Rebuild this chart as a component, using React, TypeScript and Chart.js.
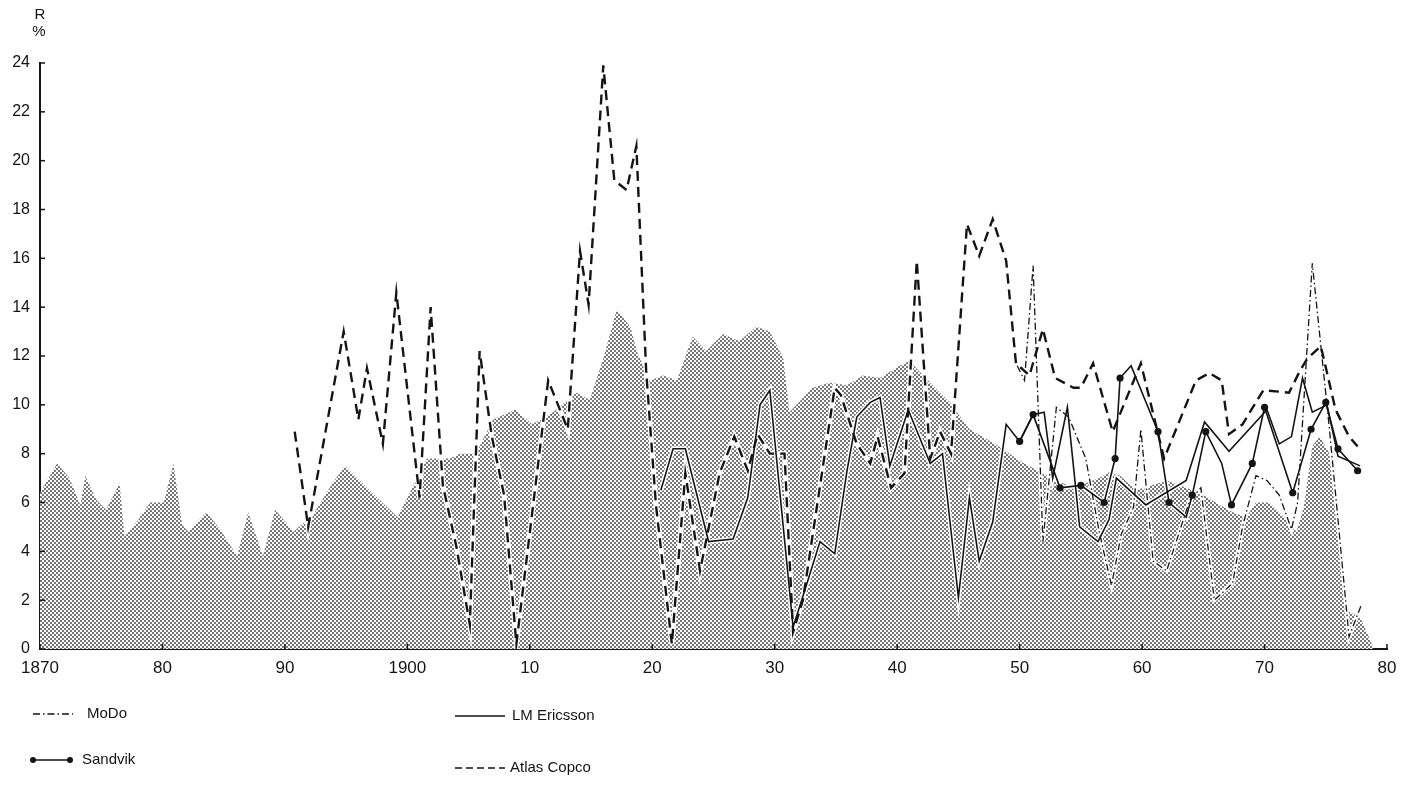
import { useEffect, useRef } from 'react';
import { Chart, registerables } from 'chart.js';

Chart.register(...registerables);

// ---------- data ----------
const xTickYears = [1870, 1880, 1890, 1900, 1910, 1920, 1930, 1940, 1950, 1960, 1970, 1980];
const xTickLabels = ['1870', '80', '90', '1900', '10', '20', '30', '40', '50', '60', '70', '80'];
const yTickValues = [0, 2, 4, 6, 8, 10, 12, 14, 16, 18, 20, 22, 24];

// aggregate (stippled area) [year, R %]
const aggregateSeries: [number, number][] = [
  [1870.0, 6.4], [1871.4, 7.6], [1872.4, 7.0], [1873.3, 5.9], [1873.7, 7.1], [1874.6, 6.1],
  [1875.4, 5.7], [1876.5, 6.8], [1876.9, 4.6], [1877.9, 5.2], [1879.0, 6.0], [1880.1, 6.0],
  [1880.9, 7.6], [1881.6, 5.1], [1882.1, 4.8], [1883.6, 5.6], [1884.7, 4.9], [1886.1, 3.8],
  [1887.0, 5.6], [1888.2, 3.8], [1889.2, 5.7], [1890.7, 4.8], [1892.3, 5.5], [1893.9, 6.8],
  [1894.9, 7.5], [1896.7, 6.6], [1899.2, 5.4], [1901.6, 7.8], [1903.5, 7.8], [1904.3, 8.0],
  [1905.6, 8.0], [1907.0, 9.4], [1908.8, 9.8], [1910.2, 9.2], [1911.9, 9.7], [1913.8, 10.5],
  [1914.9, 10.2], [1916.0, 11.9], [1917.1, 13.9], [1918.2, 13.2], [1918.8, 12.1], [1919.8, 11.0],
  [1920.9, 11.2], [1922.0, 11.0], [1923.3, 12.8], [1924.4, 12.2], [1925.8, 12.9], [1927.1, 12.6],
  [1928.5, 13.2], [1929.6, 13.0], [1930.7, 11.9], [1931.2, 9.7], [1933.1, 10.7], [1934.5, 10.9],
  [1935.9, 10.8], [1937.2, 11.2], [1938.6, 11.1], [1940.2, 11.6], [1941.0, 11.8], [1942.7, 10.9],
  [1944.3, 10.1], [1945.9, 9.0], [1947.3, 8.6], [1948.6, 8.2], [1950.0, 7.7], [1951.5, 7.3],
  [1953.0, 6.9], [1954.5, 6.6], [1956.5, 7.0], [1957.5, 7.3], [1958.2, 7.1], [1959.5, 6.5],
  [1962.0, 6.9], [1964.7, 6.4], [1966.0, 6.0], [1967.4, 5.6], [1968.5, 5.4], [1969.3, 6.0],
  [1970.4, 6.0], [1971.6, 5.4], [1972.6, 4.8], [1973.2, 5.8], [1973.9, 8.3], [1974.5, 8.7],
  [1975.3, 8.0], [1975.9, 5.0], [1976.6, 1.6], [1977.8, 1.3], [1978.6, 0.4], [1978.9, 0.0],
];

const atlasCopcoSeries: [number, number][] = [
  [1890.8, 8.9], [1891.9, 5.0], [1894.8, 13.0], [1896.0, 9.4], [1896.7, 11.5], [1898.0, 8.4],
  [1899.1, 14.6], [1901.0, 6.2], [1901.9, 14.0], [1902.9, 6.7], [1904.0, 4.2], [1905.1, 1.0],
  [1905.9, 12.2], [1906.9, 8.7], [1907.9, 6.3], [1908.9, 0.2], [1911.5, 11.0], [1913.1, 9.0],
  [1914.1, 16.3], [1914.8, 14.1], [1916.0, 23.9], [1916.9, 19.2], [1917.9, 18.8], [1918.7, 20.6],
  [1919.5, 11.4], [1920.3, 5.9], [1921.6, 0.2], [1922.7, 7.2], [1923.9, 3.2], [1925.5, 7.2],
  [1926.7, 8.7], [1927.8, 7.3], [1928.6, 8.8], [1929.6, 8.0], [1930.8, 8.0], [1931.5, 0.7],
  [1932.3, 2.0], [1934.9, 10.7], [1935.4, 10.4], [1936.7, 8.4], [1937.8, 7.6], [1938.4, 8.7],
  [1939.5, 6.6], [1940.6, 7.2], [1941.6, 15.9], [1942.7, 7.8], [1943.5, 8.9], [1944.4, 8.0],
  [1945.7, 17.4], [1946.7, 16.1], [1947.8, 17.6], [1948.9, 15.9], [1949.7, 11.7], [1950.8, 11.2],
  [1951.9, 13.1], [1952.9, 11.1], [1954.4, 10.7], [1955.0, 10.7], [1956.0, 11.7], [1957.6, 8.9],
  [1959.9, 11.7], [1961.8, 7.8], [1964.4, 11.0], [1965.5, 11.3], [1966.5, 11.0], [1967.1, 8.8],
  [1968.2, 9.2], [1969.9, 10.6], [1972.0, 10.5], [1972.9, 11.4], [1973.5, 11.9], [1974.6, 12.4],
  [1975.8, 9.8], [1976.9, 8.7], [1977.6, 8.3],
];

const lmEricssonSeries: [number, number][] = [
  [1920.7, 6.5], [1921.7, 8.2], [1922.7, 8.2], [1924.6, 4.4], [1926.6, 4.5], [1927.8, 6.2],
  [1928.8, 10.0], [1929.6, 10.6], [1931.5, 0.9], [1932.2, 2.0], [1933.7, 4.4], [1934.9, 3.9],
  [1935.9, 7.3], [1936.7, 9.5], [1937.8, 10.1], [1938.6, 10.3], [1939.4, 7.5], [1940.9, 9.8],
  [1942.7, 7.6], [1943.7, 8.0], [1945.0, 2.1], [1945.9, 6.2], [1946.7, 3.6], [1947.8, 5.2],
  [1948.9, 9.2], [1950.0, 8.5], [1951.1, 9.6], [1952.0, 9.7], [1952.7, 7.0], [1953.9, 9.9],
  [1954.9, 5.0], [1956.4, 4.4], [1957.3, 5.3], [1957.9, 7.0], [1960.3, 5.9], [1963.6, 6.9],
  [1965.1, 9.3], [1967.1, 8.1], [1970.2, 9.8], [1971.2, 8.4], [1972.2, 8.7], [1973.1, 11.1],
  [1973.9, 9.7], [1975.1, 10.0], [1976.0, 7.9], [1977.8, 7.5],
];

const sandvikSeries: [number, number][] = [
  [1950.0, 8.5], [1951.1, 9.6], [1953.3, 6.6], [1955.0, 6.7], [1956.9, 6.0], [1957.8, 7.8],
  [1958.2, 11.1], [1959.1, 11.6], [1961.3, 8.9], [1962.2, 6.0], [1963.6, 5.4], [1964.1, 6.3],
  [1965.2, 8.9], [1966.5, 7.6], [1967.3, 5.9], [1969.0, 7.6], [1970.0, 9.9], [1972.3, 6.4],
  [1973.8, 9.0], [1975.0, 10.1], [1976.0, 8.2], [1977.6, 7.3],
];
// corners of the Sandvik line that carry no dot
const sandvikUndotted = [1959.1, 1963.6, 1966.5];

const moDoSeries: [number, number][] = [
  [1949.8, 11.6], [1950.4, 11.0], [1951.1, 15.7], [1951.9, 4.4], [1953.0, 9.9], [1954.0, 9.5],
  [1955.4, 7.8], [1956.5, 4.8], [1957.5, 2.6], [1958.3, 4.7], [1959.3, 5.8], [1959.9, 9.0],
  [1960.9, 3.6], [1962.0, 3.2], [1963.9, 6.1], [1964.8, 6.6], [1965.9, 2.0], [1967.4, 2.7],
  [1968.2, 5.0], [1969.3, 7.1], [1970.2, 6.9], [1971.2, 6.3], [1972.2, 4.9], [1972.7, 6.0],
  [1973.9, 15.8], [1975.3, 9.0], [1976.9, 0.5], [1977.9, 1.8],
];

// ---------- styling ----------
const FONT = "'Liberation Sans', Arial, Helvetica, sans-serif";
const INK = '#141414';
const DASH_ATLAS = [10, 6];
const DASH_MODO = [7, 3, 1.5, 3];

const toPoints = (s: [number, number][]) => s.map(([x, y]) => ({ x, y }));

function makeStipple(): CanvasPattern | string {
  const c = document.createElement('canvas');
  c.width = 4;
  c.height = 4;
  const g = c.getContext('2d');
  if (!g) return '#b8b8b8';
  g.fillStyle = '#ffffff';
  g.fillRect(0, 0, 4, 4);
  g.fillStyle = '#767676';
  g.fillRect(0, 0, 2, 2);
  g.fillRect(2, 2, 2, 2);
  return g.createPattern(c, 'repeat') || '#b8b8b8';
}

const axisDecor = {
  id: 'axisDecor',
  afterDraw(chart: any) {
    const { ctx, chartArea, scales } = chart;
    const x = scales.x;
    const y = scales.y;
    ctx.save();
    ctx.strokeStyle = INK;
    ctx.fillStyle = INK;
    ctx.lineWidth = 1.5;
    yTickValues.forEach((v) => {
      const py = y.getPixelForValue(v);
      ctx.beginPath();
      ctx.moveTo(chartArea.left, py);
      ctx.lineTo(chartArea.left + 5, py);
      ctx.stroke();
    });
    xTickYears.forEach((yr) => {
      const px = x.getPixelForValue(yr);
      ctx.beginPath();
      ctx.moveTo(px, chartArea.bottom);
      ctx.lineTo(px, chartArea.bottom - 5);
      ctx.stroke();
    });
    // axis title "R %"
    ctx.font = `15px ${FONT}`;
    ctx.textAlign = 'center';
    ctx.textBaseline = 'middle';
    ctx.fillText('R', chartArea.left, 15);
    ctx.fillText('%', chartArea.left - 1, 32);

    // legend
    const ds = chart.data.datasets;
    const find = (name: string) => ds.find((d: any) => d.label === name);
    const items = [
      { name: 'MoDo', x0: 33, x1: 73, y: 714, tx: 87, dash: DASH_MODO, w: 1.3, dots: false },
      { name: 'Sandvik', x0: 33, x1: 70, y: 760, tx: 82, dash: [], w: 1.6, dots: true },
      { name: 'LM Ericsson', x0: 455, x1: 505, y: 716, tx: 512, dash: [], w: 1.5, dots: false },
      { name: 'Atlas Copco', x0: 455, x1: 505, y: 768, tx: 510, dash: [7, 4], w: 1.6, dots: false },
    ];
    ctx.font = `15px ${FONT}`;
    ctx.textAlign = 'left';
    items.forEach((it) => {
      const d = find(it.name);
      if (!d) return;
      ctx.setLineDash(it.dash);
      ctx.lineWidth = it.w;
      ctx.beginPath();
      ctx.moveTo(it.x0, it.y);
      ctx.lineTo(it.x1, it.y);
      ctx.stroke();
      ctx.setLineDash([]);
      if (it.dots) {
        [it.x0, it.x1].forEach((px) => {
          ctx.beginPath();
          ctx.arc(px, it.y, 3, 0, Math.PI * 2);
          ctx.fill();
        });
      }
      ctx.fillText(d.label, it.tx, it.y);
    });
    ctx.restore();
  },
};

export default function App() {
  const ref = useRef<HTMLCanvasElement>(null);

  useEffect(() => {
    document.body.style.margin = '0';
    const canvas = ref.current;
    if (!canvas) return;
    const stipple = makeStipple();

    const halo = (data: { x: number; y: number }[], w: number) => ({
      label: '',
      data,
      borderColor: '#ffffff',
      borderWidth: w,
      pointRadius: 0,
      fill: false,
      tension: 0,
      order: 5,
    });

    const atlas = toPoints(atlasCopcoSeries);
    const lm = toPoints(lmEricssonSeries);
    const sandvik = toPoints(sandvikSeries);
    const modo = toPoints(moDoSeries);

    const chart = new Chart(canvas, {
      type: 'line',
      data: {
        datasets: [
          {
            label: 'Atlas Copco',
            data: atlas,
            borderColor: INK,
            borderWidth: 2.4,
            borderDash: DASH_ATLAS,
            pointRadius: 0,
            fill: false,
            tension: 0,
            order: 1,
          },
          {
            label: 'LM Ericsson',
            data: lm,
            borderColor: INK,
            borderWidth: 1.6,
            pointRadius: 0,
            fill: false,
            tension: 0,
            order: 1,
          },
          {
            label: 'Sandvik',
            data: sandvik,
            borderColor: INK,
            backgroundColor: INK,
            borderWidth: 1.6,
            pointRadius: (c: any) =>
              sandvikUndotted.includes(sandvikSeries[c.dataIndex]?.[0]) ? 0 : 3.6,
            pointBorderWidth: 0,
            pointBackgroundColor: INK,
            fill: false,
            tension: 0,
            order: 1,
          },
          {
            label: 'MoDo',
            data: modo,
            borderColor: INK,
            borderWidth: 1.3,
            borderDash: DASH_MODO,
            pointRadius: 0,
            fill: false,
            tension: 0,
            order: 1,
          },
          halo(atlas, 5),
          halo(lm, 4.5),
          halo(sandvik, 4.5),
          halo(modo, 4),
          {
            label: 'aggregate',
            data: toPoints(aggregateSeries),
            borderWidth: 0,
            borderColor: 'rgba(0,0,0,0)',
            backgroundColor: stipple as any,
            pointRadius: 0,
            fill: 'origin',
            tension: 0,
            order: 10,
          },
        ],
      },
      options: {
        animation: false,
        responsive: true,
        maintainAspectRatio: false,
        parsing: false as any,
        layout: { padding: { left: 0, right: 29, top: 63, bottom: 111 } },
        plugins: {
          legend: { display: false },
          tooltip: { enabled: false },
          title: { display: false },
        },
        scales: {
          x: {
            type: 'linear',
            min: 1870,
            max: 1980,
            afterFit: (s: any) => {
              s.height = 30;
            },
            afterBuildTicks: (s: any) => {
              s.ticks = xTickYears.map((v) => ({ value: v }));
            },
            grid: { display: false, drawTicks: false },
            border: { display: true, color: INK, width: 2 },
            ticks: {
              padding: 9,
              color: INK,
              maxRotation: 0,
              autoSkip: false,
              font: { family: FONT, size: 17 },
              callback: (v: any) => {
                const i = xTickYears.indexOf(Number(v));
                return i >= 0 ? xTickLabels[i] : '';
              },
            },
          },
          y: {
            type: 'linear',
            min: 0,
            max: 24,
            afterFit: (s: any) => {
              s.width = 40;
            },
            afterBuildTicks: (s: any) => {
              s.ticks = yTickValues.map((v) => ({ value: v }));
            },
            grid: { display: false, drawTicks: false },
            border: { display: true, color: INK, width: 2 },
            ticks: {
              padding: 10,
              color: INK,
              font: { family: FONT, size: 16 },
              callback: (v: any) => String(v),
            },
          },
        },
      },
      plugins: [axisDecor],
    } as any);

    return () => chart.destroy();
  }, []);

  return (
    <div style={{ width: 1416, height: 790, position: 'relative', background: '#ffffff' }}>
      <canvas ref={ref} />
    </div>
  );
}
